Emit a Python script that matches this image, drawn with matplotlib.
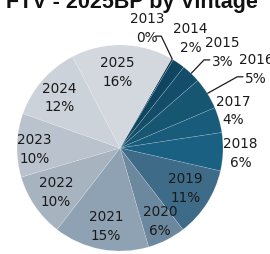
import numpy as np
import matplotlib
matplotlib.use("Agg")
import matplotlib.pyplot as plt

years = ["2013", "2014", "2015", "2016", "2017", "2018", "2019",
         "2020", "2021", "2022", "2023", "2024", "2025"]
shares = [0.3, 2, 3, 5, 4, 6, 11, 6, 15, 10, 10, 12, 16]
pct_labels = ["0%", "2%", "3%", "5%", "4%", "6%", "11%",
              "6%", "15%", "10%", "10%", "12%", "16%"]
title = "FTV - 2025BP by Vintage"

colors = ["#0a3852", "#0f4560", "#134d69", "#165671", "#185b7a", "#1a6082",
          "#3e6b88", "#6c889e", "#8fa2b3", "#a7b4c0", "#bac3cd", "#cbd2d9",
          "#d3d8de"]
# label placement style: (radius factor, angle offset in degrees)
label_r = [1.20, 1.27, 1.37, 1.53, 1.16, 1.17, 0.74, 0.80, 0.76, 0.75, 0.83, 0.77, 0.74]
label_da = [18, 2, -3, -1.5, 2.7, 0, 1.8, 2, 0.6, -0.3, 2, 1, 3]
leader = [True, False, True, True, False, False, False, False, False, False, False, False, False]

fig = plt.figure(figsize=(2.70, 2.55), dpi=100)
ax = fig.add_axes([0, 0, 1, 1])
wedges, _ = ax.pie(shares, colors=colors, startangle=60, counterclock=False,
                   radius=1.0,
                   wedgeprops=dict(edgecolor=(1, 1, 1, 0.25), linewidth=0.4))
ax.set_xlim(-1.165, 1.456)
ax.set_ylim(-1.029, 1.447)
ax.set_aspect("equal")
ax.axis("off")

for i, w in enumerate(wedges):
    mid = 0.5 * (w.theta1 + w.theta2)
    ang = np.deg2rad(mid + label_da[i])
    r = label_r[i]
    tx, ty = r * np.cos(ang), r * np.sin(ang)
    ax.text(tx, ty, f"{years[i]}\n{pct_labels[i]}", ha="center", va="center",
            fontsize=9.8, color="#1a1a1a", linespacing=1.45,
            family="DejaVu Sans")
    if leader[i]:
        ex, ey = np.cos(np.deg2rad(mid)), np.sin(np.deg2rad(mid))
        sx = tx - 0.12 if i != 0 else tx + 0.08
        sy = ty - 0.085
        if i == 0:
            xs = [sx, sx + 0.06, ex]
            ys = [sy, sy, ey]
        else:
            xs = [sx, sx - 0.06, ex]
            ys = [sy, sy, ey]
        ax.plot(xs, ys, color="#1a1a1a", lw=0.9, solid_capstyle="butt")

fig.text(0.49, 0.968, title, ha="center", va="baseline", fontsize=15.5,
         fontweight="bold", color="#111111",
         family=["Liberation Sans", "DejaVu Sans"])

fig.savefig("out.png", dpi=100)
